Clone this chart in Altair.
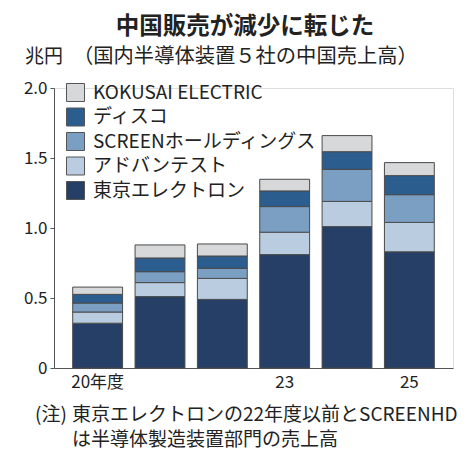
import altair as alt
import pandas as pd

years = ["20", "21", "22", "23", "24", "25"]
companies = ["KOKUSAI ELECTRIC", "ディスコ", "SCREENホールディングス", "アドバンテスト", "東京エレクトロン"]
tel = [0.32, 0.51, 0.49, 0.81, 1.01, 0.83]
advantest = [0.08, 0.10, 0.15, 0.16, 0.18, 0.21]
screen = [0.064, 0.078, 0.072, 0.183, 0.229, 0.198]
disco = [0.062, 0.098, 0.088, 0.112, 0.126, 0.136]
kokusai = [0.052, 0.093, 0.086, 0.083, 0.115, 0.093]
colors = ["#d6d8da", "#2c5d8f", "#7b9ec3", "#b9cce0", "#253f66"]

series = {
    "東京エレクトロン": tel,
    "アドバンテスト": advantest,
    "SCREENホールディングス": screen,
    "ディスコ": disco,
    "KOKUSAI ELECTRIC": kokusai,
}
rows = []
for rank, (name, vals) in enumerate(series.items()):
    for y, v in zip(years, vals):
        rows.append({"year": y, "company": name, "value": v, "rank": rank})
df = pd.DataFrame(rows)

FONT = "Noto Sans CJK JP"

bars = alt.Chart(df).mark_bar(stroke="#4a4a4a", strokeWidth=1).encode(
    x=alt.X("year:N", sort=years,
            scale=alt.Scale(paddingInner=0.2, paddingOuter=0.3),
            axis=alt.Axis(title=None, labelAngle=0, ticks=False, domainColor="#555",
                          labelFontSize=17, labelColor="#222", labelFont=FONT, labelPadding=6,
                          labelExpr="datum.value == '20' ? '20年度' : (datum.value == '23' || datum.value == '25') ? datum.value : ''")),
    y=alt.Y("value:Q", stack="zero",
            scale=alt.Scale(domain=[0, 2.0], nice=False),
            axis=alt.Axis(title=None, values=[0, 0.5, 1.0, 1.5, 2.0], grid=False,
                          tickSize=4, tickColor="#555", domainColor="#555",
                          labelFontSize=17, labelColor="#222", labelFont=FONT, labelPadding=3,
                          labelExpr="datum.value == 0 ? '0' : format(datum.value, '.1f')")),
    color=alt.Color("company:N", scale=alt.Scale(domain=companies, range=colors),
                    legend=alt.Legend(title=None, orient="none", legendX=12, legendY=-5,
                                      symbolType="square", symbolSize=324,
                                      symbolStrokeColor="#555", symbolStrokeWidth=1,
                                      labelFontSize=19, labelFont=FONT, labelColor="#222",
                                      labelLimit=400,
                                      labelOffset=8, rowPadding=1.5, padding=0)),
    order=alt.Order("rank:Q", sort="ascending"),
)

texts = [
    ("中国販売が減少に転じた", 191, -61, 23.5, "bold", "center"),
    ("兆円", -29, -31, 19, "normal", "left"),
    ("（国内半導体装置５社の中国売上高）", 19, -31, 20.3, "normal", "left"),
    ("(注)", -19, 327, 19, "normal", "left"),
    ("東京エレクトロンの22年度以前とSCREENHD", 18, 327, 19, "normal", "left"),
    ("は半導体製造装置部門の売上高", 18, 352, 19, "normal", "left"),
]
layers = [bars]
for t, x, y, fs, fw, al in texts:
    layers.append(
        alt.Chart(pd.DataFrame({"t": [t]})).mark_text(
            font=FONT, fontSize=fs, fontWeight=fw, align=al, baseline="middle", color="#222"
        ).encode(text="t:N", x=alt.value(x), y=alt.value(y))
    )

chart = alt.layer(*layers).properties(
    width=399, height=280,
    autosize=alt.AutoSizeParams(type="none"),
    padding={"left": 46, "top": 80, "right": 10, "bottom": 93},
).configure_view(stroke=None).configure(background="white")

chart.save("out.html", embed_options={"renderer": "svg", "actions": False})
